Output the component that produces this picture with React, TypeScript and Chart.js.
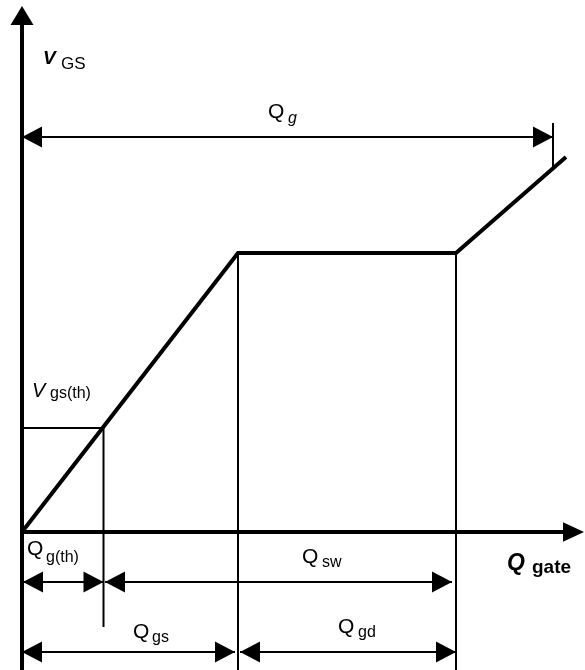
import React, { useEffect, useRef } from 'react';
import { Chart, registerables } from 'chart.js';

Chart.register(...registerables);

// ---- Data (arbitrary charge / voltage units) ----
// Gate-charge curve: V_GS versus Q_gate
const curveCharge = [0, 21.6, 43.4, 54.4];
const curveVoltage = [0, 27.9, 27.9, 37.5];
// Characteristic charges: Q_g(th), Q_gs, Q_gs+Q_gd, Q_g
const levelCharges = [8.15, 21.6, 43.4, 53.1];
// Characteristic voltages: V_gs(th), plateau
const levelVoltages = [10.4, 27.9];
// Rows of the dimension arrows: Q_g row, first row below axis, second row below axis
const dimensionRows = [39.5, -5, -12];
// Visible window of the drawing
const xRange = [-2.2, 56.3];
const yRange = [-13.8, 53.2];
// Axis ends (arrowhead bases)
const axisEnds = [54.1, 50.7];

const FONT = "'Liberation Sans', Arial, Helvetica, sans-serif";

type Part = { text: string; x: number; y: number; font: string };
const labels: Part[] = [
  { text: 'V', x: 2.1, y: 46.85, font: `bold italic 19px ${FONT}` },
  { text: 'GS', x: 3.9, y: 46.3, font: `17px ${FONT}` },
  { text: 'Q', x: 24.6, y: 41.4, font: `21px ${FONT}` },
  { text: 'g', x: 26.6, y: 40.87, font: `italic 16px ${FONT}` },
  { text: 'V', x: 1.0, y: 13.47, font: `italic 20px ${FONT}` },
  { text: 'gs(th)', x: 2.8, y: 13.37, font: `16px ${FONT}` },
  { text: 'Q', x: 0.5, y: -2.3, font: `21px ${FONT}` },
  { text: 'g(th)', x: 2.4, y: -3.0, font: `16px ${FONT}` },
  { text: 'Q', x: 28.0, y: -3.13, font: `21px ${FONT}` },
  { text: 'sw', x: 30.0, y: -3.5, font: `16px ${FONT}` },
  { text: 'Q', x: 11.1, y: -10.6, font: `21px ${FONT}` },
  { text: 'gs', x: 13.0, y: -11.0, font: `16px ${FONT}` },
  { text: 'Q', x: 31.6, y: -10.13, font: `21px ${FONT}` },
  { text: 'gd', x: 33.6, y: -10.45, font: `16px ${FONT}` },
  { text: 'Q', x: 48.5, y: -3.75, font: `bold italic 23px ${FONT}` },
  { text: 'gate', x: 51.0, y: -4.1, font: `bold 19px ${FONT}` },
];

type Head = { len: number; half: number; atBase?: boolean };

const arrowPlugin = {
  id: 'arrowheads',
  afterDatasetsDraw(chart: any) {
    const ctx = chart.ctx as CanvasRenderingContext2D;
    chart.data.datasets.forEach((ds: any, i: number) => {
      const pts = chart.getDatasetMeta(i).data;
      if (!pts || pts.length < 2) return;
      const draw = (end: any, prev: any, h: Head) => {
        const dx = end.x - prev.x;
        const dy = end.y - prev.y;
        const d = Math.hypot(dx, dy) || 1;
        const ux = dx / d;
        const uy = dy / d;
        let tx = end.x, ty = end.y, bx, by;
        if (h.atBase) {
          bx = end.x; by = end.y;
          tx = end.x + ux * h.len; ty = end.y + uy * h.len;
        } else {
          bx = end.x - ux * h.len; by = end.y - uy * h.len;
        }
        const nx = -uy, ny = ux;
        ctx.save();
        ctx.fillStyle = '#000';
        ctx.beginPath();
        ctx.moveTo(tx, ty);
        ctx.lineTo(bx + nx * h.half, by + ny * h.half);
        ctx.lineTo(bx - nx * h.half, by - ny * h.half);
        ctx.closePath();
        ctx.fill();
        ctx.restore();
      };
      if (ds.headStart) draw(pts[0], pts[1], ds.headStart);
      if (ds.headEnd) draw(pts[pts.length - 1], pts[pts.length - 2], ds.headEnd);
    });
  },
  afterDraw(chart: any) {
    const ctx = chart.ctx as CanvasRenderingContext2D;
    const xs = chart.scales.x;
    const ys = chart.scales.y;
    ctx.save();
    ctx.fillStyle = '#000';
    ctx.textAlign = 'left';
    ctx.textBaseline = 'alphabetic';
    labels.forEach((p) => {
      ctx.font = p.font;
      ctx.fillText(p.text, xs.getPixelForValue(p.x), ys.getPixelForValue(p.y));
    });
    ctx.restore();
  },
};

function seg(points: number[][], width: number, extra: any = {}) {
  return {
    data: points.map(([x, y]) => ({ x, y })),
    showLine: true,
    borderColor: '#000',
    backgroundColor: '#000',
    borderWidth: width,
    pointRadius: 0,
    pointHoverRadius: 0,
    fill: false,
    tension: 0,
    borderJoinStyle: 'miter',
    borderCapStyle: 'butt',
    clip: false,
    ...extra,
  };
}

export default function App() {
  const ref = useRef<HTMLCanvasElement | null>(null);

  useEffect(() => {
    if (!ref.current) return;
    const [qTh, qGs, qSwEnd, qG] = levelCharges;
    const [vTh, vPlat] = levelVoltages;
    const [rowG, row1, row2] = dimensionRows;
    const qgTickTop = 40.9;
    const qgTickBottom =
      curveVoltage[2] + ((qG - curveCharge[2]) * (curveVoltage[3] - curveVoltage[2])) / (curveCharge[3] - curveCharge[2]);
    const dimHead: Head = { len: 20, half: 10.5 };

    const datasets: any[] = [
      // axes
      seg([[0, yRange[0] - 1], [0, axisEnds[1]]], 4, { headEnd: { len: 19, half: 11.5, atBase: true } }),
      seg([[0, 0], [axisEnds[0], 0]], 4, { headEnd: { len: 21, half: 9.7, atBase: true } }),
      // gate charge curve
      seg(curveCharge.map((q, i) => [q, curveVoltage[i]]), 4),
      // extension lines
      seg([[0, vTh], [qTh, vTh]], 2),
      seg([[qTh, vTh], [qTh, -9.5]], 2),
      seg([[qGs, vPlat], [qGs, yRange[0] - 1]], 2),
      seg([[qSwEnd, vPlat], [qSwEnd, yRange[0] - 1]], 2),
      seg([[qG, qgTickTop], [qG, qgTickBottom]], 2),
      // dimension arrows
      seg([[0, rowG], [qG, rowG]], 2, { headStart: dimHead, headEnd: dimHead }),
      seg([[0.1, row1], [qTh, row1]], 2, { headStart: dimHead, headEnd: dimHead }),
      seg([[8.3, row1], [43.0, row1]], 2, { headStart: dimHead, headEnd: dimHead }),
      seg([[0, row2], [21.3, row2]], 2, { headStart: dimHead, headEnd: dimHead }),
      seg([[21.8, row2], [qSwEnd, row2]], 2, { headStart: dimHead, headEnd: dimHead }),
    ];

    const chart = new Chart(ref.current, {
      type: 'scatter',
      data: { datasets },
      options: {
        animation: false,
        responsive: false,
        maintainAspectRatio: false,
        devicePixelRatio: 1,
        events: [],
        layout: { padding: 0 },
        plugins: { legend: { display: false }, tooltip: { enabled: false }, title: { display: false } },
        scales: {
          x: { type: 'linear', display: false, min: xRange[0], max: xRange[1] },
          y: { type: 'linear', display: false, min: yRange[0], max: yRange[1] },
        },
      },
      plugins: [arrowPlugin],
    } as any);
    return () => chart.destroy();
  }, []);

  return (
    <div style={{ position: 'absolute', left: 0, top: 0, width: 585, height: 670, background: '#fff' }}>
      <canvas ref={ref} width={585} height={670} style={{ display: 'block', width: 585, height: 670 }} />
    </div>
  );
}
